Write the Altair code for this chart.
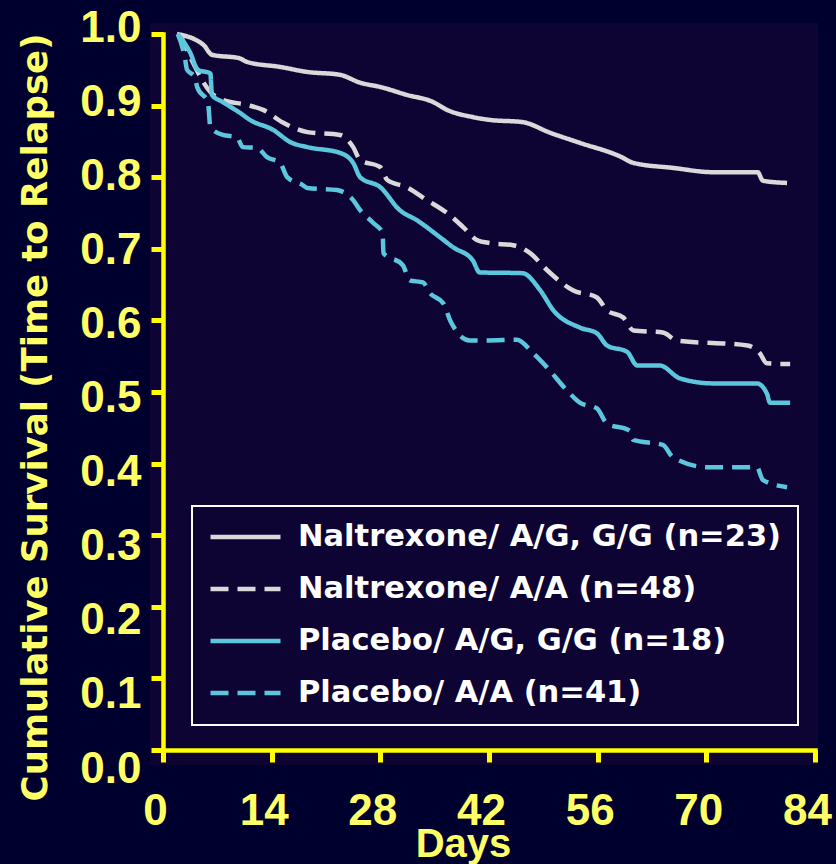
import altair as alt
import pandas as pd

BG = "#00002f"
PANEL = "#0e0434"
YELLOW = "#ffff00"
LABEL_YELLOW = "#ffff66"

series_names = [
    "Naltrexone/ A/G, G/G (n=23)",
    "Naltrexone/ A/A (n=48)",
    "Placebo/ A/G, G/G (n=18)",
    "Placebo/ A/A (n=41)",
]
series_colors = ["#d9d9d9", "#d9d9d9", "#5cc6dc", "#5cc6dc"]
series_dashes = [[1, 0], [18, 9], [1, 0], [18, 9]]

x_ticks = [0, 14, 28, 42, 56, 70, 84]
y_ticks = [0.0, 0.1, 0.2, 0.3, 0.4, 0.5, 0.6, 0.7, 0.8, 0.9, 1.0]

nal_gg_days = [1.8, 5.2, 6.3, 9.9, 10.8, 15.1, 18.6, 22.8, 25.4, 28.0, 31.4, 34.8, 36.6,
               39.9, 42.1, 46.3, 49.9, 53.7, 58.9, 60.6, 65.7, 70.9, 76.6, 77.3, 80.4]
nal_gg_surv = [1.0, 0.985, 0.971, 0.966, 0.961, 0.954, 0.947, 0.943, 0.932, 0.926, 0.915, 0.905, 0.894,
               0.884, 0.880, 0.877, 0.862, 0.848, 0.829, 0.820, 0.813, 0.807, 0.807, 0.795, 0.792]

nal_aa_days = [2.2, 3.9, 6.1, 7.7, 10.8, 12.9, 15.5, 18.6, 22.8, 24.5, 25.4, 28.0, 28.9, 31.4, 34.0,
               36.6, 38.7, 40.5, 42.1, 45.1, 47.3, 49.5, 52.8, 55.9, 57.2, 59.3, 60.6, 64.4, 66.2,
               75.3, 76.9, 77.8, 80.8]
nal_aa_surv = [1.0, 0.959, 0.919, 0.908, 0.901, 0.894, 0.876, 0.863, 0.859, 0.842, 0.824, 0.814, 0.796,
               0.786, 0.768, 0.750, 0.730, 0.712, 0.708, 0.705, 0.694, 0.670, 0.642, 0.632, 0.614,
               0.604, 0.586, 0.583, 0.572, 0.565, 0.554, 0.540, 0.539]

pla_gg_days = [1.9, 3.5, 4.5, 6.1, 6.3, 7.7, 9.9, 11.2, 14.2, 16.4, 18.6, 22.8, 24.5, 25.4, 28.0,
               30.5, 32.7, 35.7, 37.4, 39.9, 40.8, 46.3, 48.6, 50.3, 53.7, 55.9, 57.2, 59.8, 61.1,
               64.0, 66.6, 70.9, 76.5, 77.8, 78.2, 80.8]
pla_gg_surv = [1.0, 0.974, 0.950, 0.945, 0.915, 0.905, 0.890, 0.880, 0.866, 0.849, 0.842, 0.834,
               0.820, 0.800, 0.786, 0.754, 0.740, 0.716, 0.702, 0.684, 0.667, 0.666, 0.642, 0.614,
               0.590, 0.582, 0.565, 0.556, 0.537, 0.537, 0.519, 0.512, 0.512, 0.498, 0.485, 0.485]

pla_aa_days = [1.9, 2.8, 3.1, 4.1, 4.4, 5.8, 6.1, 7.7, 9.5, 10.3, 12.1, 13.4, 15.1, 16.0, 18.0,
               18.6, 22.4, 24.5, 25.4, 27.1, 28.3, 28.4, 30.9, 31.8, 33.5, 34.4, 36.1, 37.0, 39.5,
               41.8, 45.6, 47.7, 49.5, 52.4, 53.7, 55.9, 57.2, 60.1, 60.6, 64.4, 65.7, 70.1, 76.5,
               77.3, 80.4]
pla_aa_surv = [1.0, 0.968, 0.950, 0.940, 0.926, 0.904, 0.870, 0.859, 0.856, 0.842, 0.841, 0.828,
               0.820, 0.800, 0.789, 0.785, 0.782, 0.768, 0.754, 0.736, 0.722, 0.694, 0.677, 0.656,
               0.653, 0.638, 0.624, 0.600, 0.572, 0.572, 0.573, 0.554, 0.534, 0.498, 0.485, 0.477,
               0.456, 0.446, 0.433, 0.426, 0.409, 0.395, 0.395, 0.377, 0.367]

all_days = [nal_gg_days, nal_aa_days, pla_gg_days, pla_aa_days]
all_surv = [nal_gg_surv, nal_aa_surv, pla_gg_surv, pla_aa_surv]

rows = []
for name, days, vals in zip(series_names, all_days, all_surv):
    for d, v in zip(days, vals):
        rows.append({"series": name, "day": d, "surv": v})
df = pd.DataFrame(rows)

W, H = 652, 716

panel = alt.Chart(pd.DataFrame({"k": [0]})).mark_rect(color=PANEL).encode(
    x=alt.value(-13), x2=alt.value(W + 3), y=alt.value(-11), y2=alt.value(H + 15)
)

x_axis = alt.Axis(
    values=x_ticks, title="Days", grid=False, zindex=1,
    domainColor=YELLOW, domainWidth=4.5, domainCap="square",
    tickColor=YELLOW, tickWidth=5, tickSize=12,
    labelFont="Liberation Sans", labelFontWeight="bold", labelFontSize=44,
    labelColor=LABEL_YELLOW, labelPadding=27, labelOffset=-8, labelBaseline="top",
    labelFlush=False, labelOverlap=False,
    titleFont="Liberation Sans", titleFontWeight="bold", titleFontSize=40,
    titleColor=LABEL_YELLOW, titleX=300, titleY=106, titleBaseline="alphabetic",
    titleAlign="center",
)
y_axis = alt.Axis(
    values=y_ticks, format=".1f", title="Cumulative Survival (Time to Relapse)", grid=False, zindex=1,
    domainColor=YELLOW, domainWidth=4.5, domainCap="square",
    tickColor=YELLOW, tickWidth=5, tickSize=12,
    labelFont="Liberation Sans", labelFontWeight="bold", labelFontSize=44,
    labelColor=LABEL_YELLOW, labelPadding=10, labelBaseline="middle",
    labelOffset=alt.ExprRef(expr="-5.5 + (1 - datum.value) * 24.5"),
    labelFlush=False, labelOverlap=False,
    titleFont="DejaVu Sans", titleFontWeight="bold", titleFontSize=35.5,
    titleColor=LABEL_YELLOW, titleX=-128, titleY=383, titleAngle=270,
    titleBaseline="middle", titleAlign="center",
)

lines = alt.Chart(df).mark_line(strokeWidth=4.5, interpolate="monotone", strokeCap="butt").encode(
    x=alt.X("day:Q", scale=alt.Scale(domain=[0, 84], nice=False, zero=False), axis=x_axis),
    y=alt.Y("surv:Q", scale=alt.Scale(domain=[0, 1], nice=False), axis=y_axis),
    color=alt.Color("series:N", scale=alt.Scale(domain=series_names, range=series_colors),
                    legend=alt.Legend(title=None)),
    strokeDash=alt.StrokeDash("series:N", scale=alt.Scale(domain=series_names, range=series_dashes),
                              legend=alt.Legend(title=None)),
    order=alt.Order("day:Q"),
)

chart = alt.layer(panel, lines).properties(
    width=W, height=H,
    autosize=alt.AutoSizeParams(type="none"),
    padding={"left": 163, "top": 34, "right": 21, "bottom": 114},
    background=BG,
).configure_view(strokeWidth=0).configure_legend(
    orient="none", legendX=29, legendY=472, padding=16, rowPadding=21, clipHeight=30,
    strokeColor="white", strokeWidth=2, fillColor=PANEL,
    symbolType="stroke", symbolSize=4900, symbolStrokeWidth=4.5,
    labelFont="DejaVu Sans", labelFontWeight="bold", labelFontSize=30.5,
    labelColor="white", labelOffset=15, labelLimit=700,
)

chart.save("out.html", embed_options={"renderer": "svg", "actions": False})
